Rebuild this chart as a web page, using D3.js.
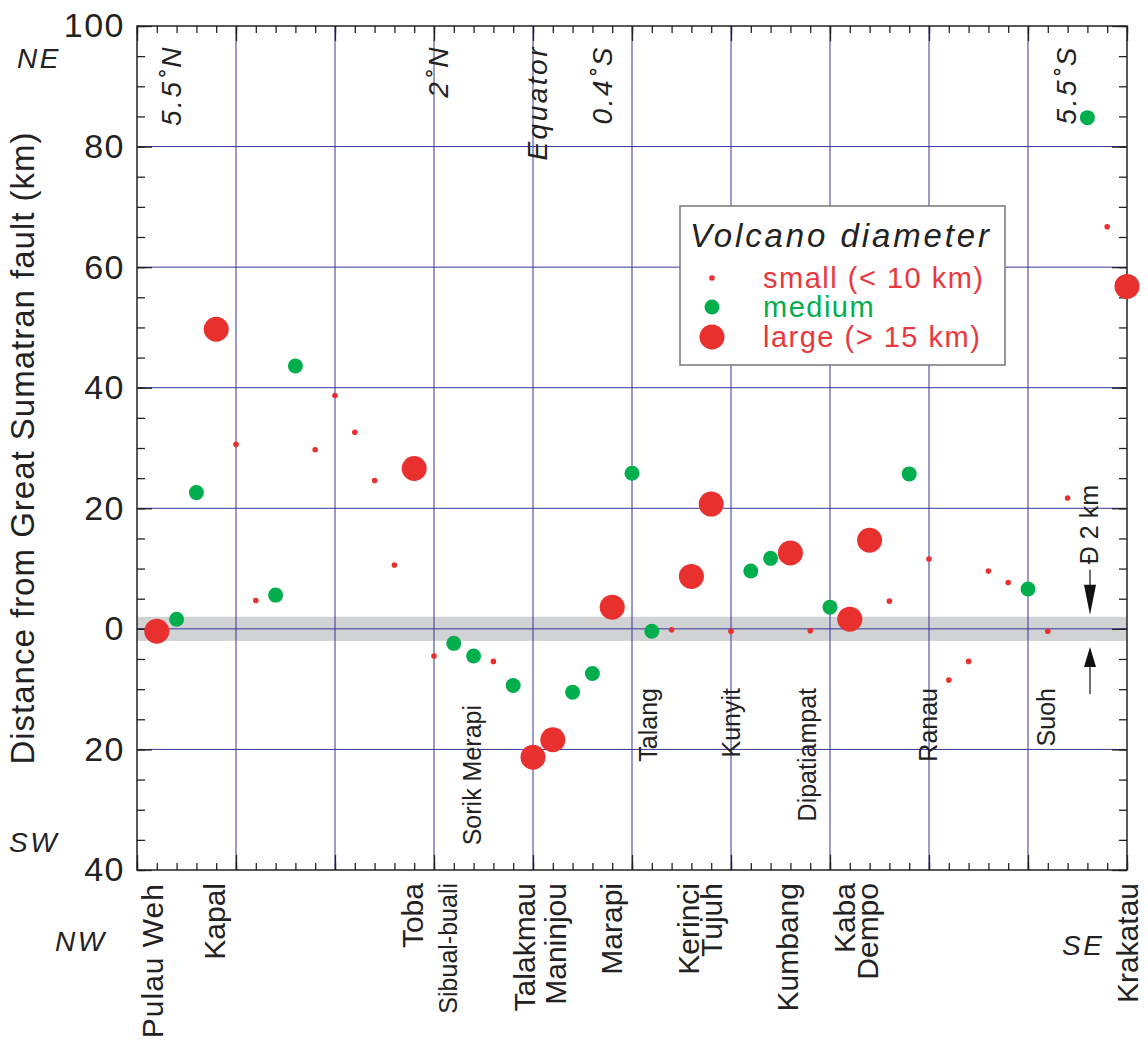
<!DOCTYPE html>
<html>
<head>
<meta charset="utf-8">
<script src="https://cdn.jsdelivr.net/npm/d3@7"></script>
<style>
  body { margin: 0; background: #fff; }
  svg text { font-family: "Liberation Sans", Arial, Helvetica, sans-serif; fill: #222; }
</style>
</head>
<body>
<div id="chart"></div>
<script>
// volcanoes along the Sumatran arc, NW -> SE, one slot each
const volcanoNames = [
  "Pulau Weh", "", "", "Kapal", "", "", "", "", "", "",
  "", "", "", "Toba", "", "Sibual-buali", "Sorik Merapi", "", "", "Talakmau",
  "Maninjou", "", "", "Marapi", "", "Talang", "", "Kerinci", "Tujuh", "Kunyit",
  "", "", "Kumbang", "Dipatiampat", "", "Kaba", "Dempo", "", "", "Ranau",
  "", "", "", "", "", "Suoh", "", "", "", "Krakatau"
];
// distance from the fault (km), positive = NE, negative = SW
const distanceKm = [
  -0.4, 1.6, 22.6, 49.7, 30.6, 4.7, 5.6, 43.6, 29.7, 38.7,
  32.6, 24.6, 10.6, 26.6, -4.5, -2.4, -4.5, -5.4, -9.4, -21.3,
  -18.4, -10.5, -7.4, 3.6, 25.8, -0.4, -0.15, 8.7, 20.7, -0.4,
  9.6, 11.7, 12.6, -0.3, 3.6, 1.6, 14.7, 4.6, 25.7, 11.6,
  -8.5, -5.4, 9.6, 7.7, 6.6, -0.4, 21.7, 84.8, 66.7, 56.8
];
// diameter class: S small (<10 km), M medium, L large (>15 km)
const diameterClass = [
  "L", "M", "M", "L", "S", "S", "M", "M", "S", "S",
  "S", "S", "S", "L", "S", "M", "M", "S", "M", "L",
  "L", "M", "M", "L", "M", "M", "S", "L", "L", "S",
  "M", "M", "L", "S", "M", "L", "L", "S", "M", "S",
  "S", "S", "S", "S", "M", "S", "S", "M", "S", "L"
];
const yLabelTicks = [100, 80, 60, 40, 20, 0, -20, -40];
const latitudeLabels = ["5.5˚N", "2˚N", "Equator", "0.4˚S", "5.5˚S"];
const latitudeSlots = [1.7, 15.2, 20.2, 23.5, 46.9];
const legendClasses = ["S", "M", "L"];
const legendLabels = ["small (< 10 km)", "medium", "large (> 15 km)"];

const W = 1148, H = 1045;
const plot = { left: 137, right: 1127, top: 26, bottom: 870 };

const svg = d3.select("#chart").append("svg")
  .attr("width", W).attr("height", H);

const x = d3.scaleLinear().domain([0, 50]).range([plot.left, plot.right]);
const y = d3.scaleLinear().domain([-40, 100]).range([plot.bottom, plot.top]);

const radius = { S: 2.8, M: 7.5, L: 12.5 };
const color = { S: "#e8312f", M: "#00ae4d", L: "#e8312f" };
const gridColor = "#35359a";

// grey +-2 km band
svg.append("rect")
  .attr("x", plot.left).attr("width", plot.right - plot.left)
  .attr("y", y(2)).attr("height", y(-2) - y(2))
  .attr("fill", "#d1d2d4");

// grid
svg.append("g").selectAll("line")
  .data(d3.range(5, 50, 5)).join("line")
  .attr("x1", d => x(d)).attr("x2", d => x(d))
  .attr("y1", plot.top).attr("y2", plot.bottom)
  .attr("stroke", gridColor).attr("stroke-width", 1);
svg.append("g").selectAll("line")
  .data([80, 60, 40, 20, 0, -20]).join("line")
  .attr("x1", plot.left).attr("x2", plot.right)
  .attr("y1", d => y(d)).attr("y2", d => y(d))
  .attr("stroke", gridColor).attr("stroke-width", 1);

// inward ticks on all four sides
function ticks(axis, tr, values, size) {
  const g = svg.append("g").attr("transform", tr)
    .call(axis.tickValues(values).tickSize(size).tickFormat(""));
  g.select(".domain").remove();
  g.selectAll("line").attr("stroke", "#222").attr("stroke-width", 1.3);
}
const yMinor = d3.range(-40, 101, 5), xMinor = d3.range(0, 51), xMajor = d3.range(0, 51, 5);
ticks(d3.axisRight(y), `translate(${plot.left},0)`, yMinor, 8);
ticks(d3.axisRight(y), `translate(${plot.left},0)`, yLabelTicks, 15);
ticks(d3.axisLeft(y), `translate(${plot.right},0)`, yMinor, 8);
ticks(d3.axisLeft(y), `translate(${plot.right},0)`, yLabelTicks, 15);
ticks(d3.axisBottom(x), `translate(0,${plot.top})`, xMinor, 7);
ticks(d3.axisBottom(x), `translate(0,${plot.top})`, xMajor, 15);
ticks(d3.axisTop(x), `translate(0,${plot.bottom})`, xMinor, 7);
ticks(d3.axisTop(x), `translate(0,${plot.bottom})`, xMajor, 15);

// frame
svg.append("rect")
  .attr("x", plot.left).attr("y", plot.top)
  .attr("width", plot.right - plot.left).attr("height", plot.bottom - plot.top)
  .attr("fill", "none").attr("stroke", "#222").attr("stroke-width", 1.5);

// y labels (absolute distance)
const yLab = svg.append("g").attr("transform", `translate(${plot.left},0)`)
  .call(d3.axisLeft(y).tickValues(yLabelTicks).tickSize(0).tickPadding(12)
    .tickFormat(d => Math.abs(d)));
yLab.select(".domain").remove();
yLab.selectAll("text")
  .attr("font-size", 34).attr("letter-spacing", 1.5).attr("fill", "#222")
  .style("font-family", '"Liberation Sans", Arial, sans-serif');

svg.append("text")
  .attr("transform", `translate(34,${(plot.top + plot.bottom) / 2}) rotate(-90)`)
  .attr("text-anchor", "middle")
  .attr("font-size", 33).attr("letter-spacing", 1)
  .text("Distance from Great Sumatran fault (km)");

// direction labels
const dirs = [["NE", 17, 68], ["SW", 9, 852], ["NW", 55, 951], ["SE", 1062, 955]];
svg.append("g").selectAll("text").data(dirs).join("text")
  .attr("x", d => d[1]).attr("y", d => d[2])
  .attr("font-size", 28).attr("font-style", "italic").attr("letter-spacing", 2.5)
  .text(d => d[0]);

// latitude markers
svg.append("g").selectAll("text").data(latitudeLabels).join("text")
  .attr("transform", (d, i) => `translate(${x(latitudeSlots[i]) + 10},45) rotate(-90)`)
  .attr("text-anchor", "end")
  .attr("font-size", 28).attr("font-style", "italic").attr("letter-spacing", 2.5)
  .text(d => d);

// volcanoes
const volcanoes = distanceKm.map((d, i) => ({
  slot: i + 1, dist: d, cls: diameterClass[i], name: volcanoNames[i]
}));

svg.append("g").selectAll("circle").data(volcanoes).join("circle")
  .attr("cx", d => x(d.slot)).attr("cy", d => y(d.dist))
  .attr("r", d => radius[d.cls])
  .attr("fill", d => color[d.cls]);

// names: big ones below the axis, small ones inside the plot
const nudge = {
  "Pulau Weh": 6, "Kapal": 9, "Toba": 9, "Sibual-buali": 3, "Talakmau": 2, "Maninjou": 13,
  "Marapi": 9.5, "Kerinci": 7.5, "Tujuh": 10.5, "Kumbang": 7.5, "Kaba": 5, "Dempo": 8.5,
  "Krakatau": 11, "Sorik Merapi": 7.5, "Talang": 5, "Kunyit": 9, "Dipatiampat": 6,
  "Ranau": 8, "Suoh": 7
};
const named = volcanoes.filter(d => d.name);
svg.append("g").selectAll("text").data(named).join("text")
  .attr("transform", d => {
    const outside = d.cls === "L" || d.name === "Sibual-buali";
    const ty = outside ? 883 : (d.name === "Sorik Merapi" ? 705 : 688);
    return `translate(${x(d.slot) + nudge[d.name]},${ty}) rotate(-90)`;
  })
  .attr("text-anchor", "end")
  .attr("font-size", d => d.cls === "L" ? 30 : 25)
  .attr("letter-spacing", d => d.name === "Pulau Weh" ? 1 : 0)
  .text(d => d.name);

// +-2 km arrows
const ax = 1090;
svg.append("line").attr("x1", ax).attr("x2", ax)
  .attr("y1", y(2) - 47).attr("y2", y(2) - 20)
  .attr("stroke", "#222").attr("stroke-width", 1.3);
svg.append("path")
  .attr("d", `M${ax - 6},${y(2) - 32}L${ax + 6},${y(2) - 32}L${ax},${y(2) - 2}Z`)
  .attr("fill", "#111");
svg.append("line").attr("x1", ax).attr("x2", ax)
  .attr("y1", y(-2) + 20).attr("y2", y(-2) + 53)
  .attr("stroke", "#222").attr("stroke-width", 1.3);
svg.append("path")
  .attr("d", `M${ax - 6},${y(-2) + 26}L${ax + 6},${y(-2) + 26}L${ax},${y(-2) + 6}Z`)
  .attr("fill", "#111");
svg.append("text")
  .attr("transform", `translate(${ax + 8},485) rotate(-90)`)
  .attr("text-anchor", "end").attr("font-size", 25)
  .text("Ð 2 km");

// legend
const lg = svg.append("g");
lg.append("rect")
  .attr("x", 680).attr("y", 206).attr("width", 325).attr("height", 159)
  .attr("fill", "#fff").attr("stroke", "#777").attr("stroke-width", 1.5);
lg.append("text")
  .attr("x", 690).attr("y", 247)
  .attr("font-size", 33).attr("font-style", "italic").attr("letter-spacing", 2.9)
  .text("Volcano diameter");
const legRow = [278, 307, 337];
lg.selectAll("circle").data(legendClasses).join("circle")
  .attr("cx", 712).attr("cy", (d, i) => legRow[i])
  .attr("r", d => radius[d]).attr("fill", d => color[d]);
lg.selectAll(".lt").data(legendLabels).join("text")
  .attr("class", "lt")
  .attr("x", 763).attr("y", (d, i) => legRow[i] + 10)
  .attr("font-size", 29).attr("letter-spacing", 1.5)
  .style("fill", (d, i) => legendClasses[i] === "M" ? "#00ae4d" : "#e8383d")
  .text(d => d);
</script>
</body>
</html>
